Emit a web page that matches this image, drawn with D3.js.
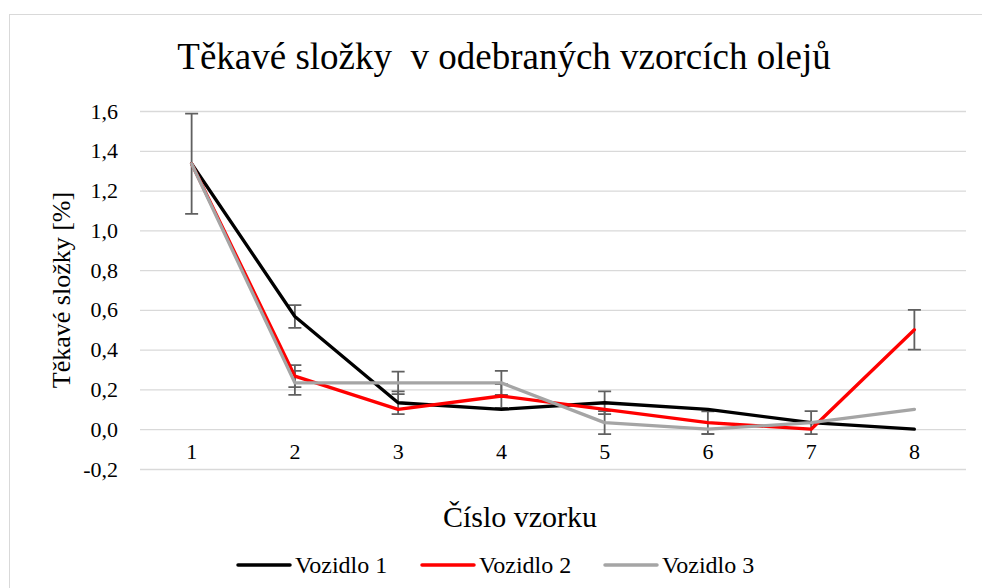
<!DOCTYPE html>
<html>
<head>
    <meta charset="UTF-8" />
    <title>Těkavé složky</title>
    <script src="https://d3js.org/d3.v7.min.js"></script>
    <style type="text/css">
        body {
            margin: 0;
            background-color: #fff;
        }
    </style>
</head>
<body>
<div id="chart"></div>
<script>
    // data
    var categories = [1, 2, 3, 4, 5, 6, 7, 8];
    var seriesNames = ["Vozidlo 1", "Vozidlo 2", "Vozidlo 3"];
    var vozidlo1 = [1.335, 0.567, 0.133, 0.1, 0.133, 0.1, 0.033, 0];
    var vozidlo2 = [1.335, 0.267, 0.1, 0.167, 0.1, 0.033, 0, 0.5];
    var vozidlo3 = [1.335, 0.233, 0.233, 0.233, 0.033, 0, 0.033, 0.1];
    // error bar half widths (null = no bar)
    var err1 = [0.252, 0.057, 0.057, null, 0.057, null, null, null];
    var err2 = [null, 0.055, null, 0.06, null, 0.057, null, 0.1];
    var err3 = [null, 0.06, 0.057, 0.06, 0.058, null, 0.058, null];
    var yTicks = [-0.2, 0, 0.2, 0.4, 0.6, 0.8, 1.0, 1.2, 1.4, 1.6];
    var colors = ["#000000", "#ff0000", "#a5a5a5"];

    var W = 982, H = 588;
    var plot = {left: 140, right: 966, top: 111, bottom: 469};
    var serif = "'Liberation Serif'";

    var series = [vozidlo1, vozidlo2, vozidlo3].map(function (vals, i) {
        var errs = [err1, err2, err3][i];
        return {
            name: seriesNames[i],
            color: colors[i],
            points: vals.map(function (v, j) {
                return {cat: categories[j], value: v, err: errs[j]};
            })
        };
    });

    var x = d3.scaleBand()
        .domain(categories)
        .range([plot.left, plot.right]);

    var y = d3.scaleLinear()
        .domain([-0.2, 1.6])
        .range([plot.bottom, plot.top]);

    var cx = function (c) { return x(c) + x.bandwidth() / 2; };
    var fmt = function (v) { return d3.format(".1f")(v).replace(".", ",").replace("−", "-"); };

    var svg = d3.select("#chart")
        .append("svg")
        .attr("width", W)
        .attr("height", H);

    // chart frame
    svg.append("rect")
        .attr("x", 9.5)
        .attr("y", 14.5)
        .attr("width", W)
        .attr("height", H)
        .attr("fill", "#fff")
        .attr("stroke", "#d9d9d9")
        .attr("stroke-width", 1);

    // gridlines
    svg.append("g")
        .attr("transform", "translate(" + plot.left + ",0)")
        .call(d3.axisLeft(y).tickValues(yTicks).tickSize(-(plot.right - plot.left)).tickFormat(""))
        .call(function (g) {
            g.select(".domain").remove();
            g.selectAll("line").attr("stroke", "#d9d9d9").attr("stroke-width", 1.3);
        });

    // y axis labels
    svg.append("g")
        .attr("transform", "translate(" + plot.left + ",0)")
        .call(d3.axisLeft(y).tickValues(yTicks).tickSize(0).tickPadding(22).tickFormat(fmt))
        .call(function (g) {
            g.select(".domain").remove();
            g.attr("font-family", null).attr("font-size", null);
            g.selectAll("text")
                .style("font-family", serif)
                .style("font-size", "22px")
                .attr("fill", "#000");
        });

    // x axis labels
    svg.append("g")
        .attr("transform", "translate(0," + (y(0) + 14) + ")")
        .call(d3.axisBottom(x).tickSize(0).tickPadding(0))
        .call(function (g) {
            g.select(".domain").remove();
            g.attr("font-family", null).attr("font-size", null);
            g.selectAll("text")
                .style("font-family", serif)
                .style("font-size", "22px")
                .attr("fill", "#000");
        });

    // error bars
    var capW = 6.5;
    var bars = [];
    series.forEach(function (s) {
        s.points.forEach(function (p) {
            if (p.err != null) bars.push(p);
        });
    });
    svg.append("g")
        .attr("stroke", "#606060")
        .attr("stroke-width", 1.8)
        .attr("fill", "none")
        .selectAll("path")
        .data(bars)
        .join("path")
        .attr("d", function (d) {
            var xc = cx(d.cat), y1 = y(d.value + d.err), y2 = y(d.value - d.err);
            return "M" + xc + "," + y1 + "V" + y2 +
                "M" + (xc - capW) + "," + y1 + "H" + (xc + capW) +
                "M" + (xc - capW) + "," + y2 + "H" + (xc + capW);
        });

    // lines
    var line = d3.line()
        .x(function (d) { return cx(d.cat); })
        .y(function (d) { return y(d.value); });

    svg.append("g")
        .selectAll("path")
        .data(series)
        .join("path")
        .attr("d", function (d) { return line(d.points); })
        .attr("fill", "none")
        .attr("stroke", function (d) { return d.color; })
        .attr("stroke-width", 3.3)
        .attr("stroke-linejoin", "round")
        .attr("stroke-linecap", "round");

    // title
    svg.append("text")
        .attr("x", 504)
        .attr("y", 69)
        .attr("text-anchor", "middle")
        .style("font-family", serif)
        .style("font-size", "37px")
        .style("white-space", "pre")
        .text("Těkavé složky  v odebraných vzorcích olejů");

    // axis titles
    svg.append("text")
        .attr("transform", "translate(70,290) rotate(-90)")
        .attr("text-anchor", "middle")
        .style("font-family", serif)
        .style("font-size", "26px")
        .text("Těkavé složky [%]");

    svg.append("text")
        .attr("x", 520)
        .attr("y", 527)
        .attr("text-anchor", "middle")
        .style("font-family", serif)
        .style("font-size", "30px")
        .text("Číslo vzorku");

    // legend
    var legendX = [237, 421, 604];
    var lg = svg.append("g")
        .selectAll("g")
        .data(series)
        .join("g")
        .attr("transform", function (d, i) { return "translate(" + legendX[i] + ",565)"; });
    lg.append("line")
        .attr("x1", 1).attr("x2", 53)
        .attr("stroke", function (d) { return d.color; })
        .attr("stroke-width", 3.5)
        .attr("stroke-linecap", "round");
    lg.append("text")
        .attr("x", 58)
        .attr("y", 8)
        .style("font-family", serif)
        .style("font-size", "24px")
        .text(function (d) { return d.name; });
</script>
</body>
</html>
